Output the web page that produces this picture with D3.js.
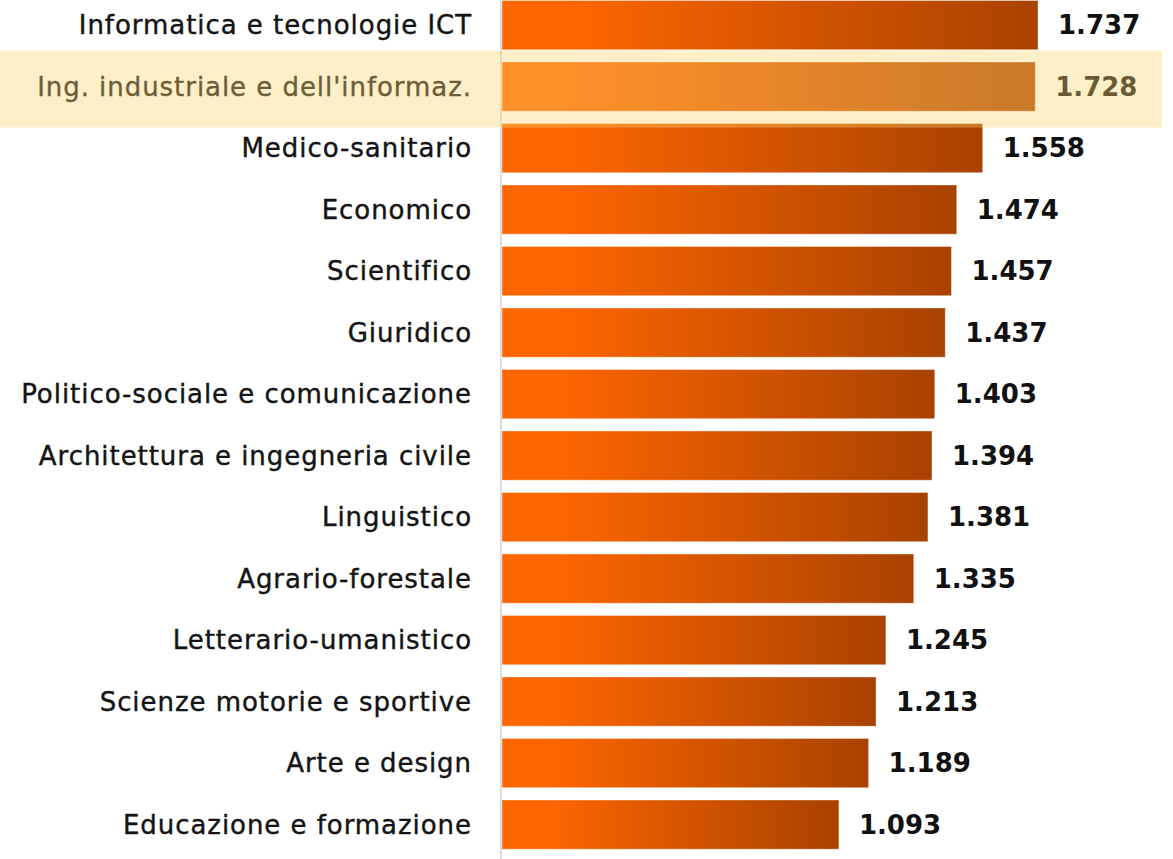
<!DOCTYPE html>
<html>
<head>
<meta charset="utf-8">
<script src="https://cdnjs.cloudflare.com/ajax/libs/d3/7.8.5/d3.min.js"></script>
<style>
    html, body { margin: 0; padding: 0; background: #ffffff; }
    svg { display: block; }
</style>
</head>
<body>
<div id="chart"></div>
<script>
var categories = [
    "Informatica e tecnologie ICT",
    "Ing. industriale e dell'informaz.",
    "Medico-sanitario",
    "Economico",
    "Scientifico",
    "Giuridico",
    "Politico-sociale e comunicazione",
    "Architettura e ingegneria civile",
    "Linguistico",
    "Agrario-forestale",
    "Letterario-umanistico",
    "Scienze motorie e sportive",
    "Arte e design",
    "Educazione e formazione"
];
var values = [1.737, 1.728, 1.558, 1.474, 1.457, 1.437, 1.403, 1.394, 1.381, 1.335, 1.245, 1.213, 1.189, 1.093];
var highlighted = ["Ing. industriale e dell'informaz."];

var full_width = 1173,
    full_height = 859;

var axis_x = 501;

var svg = d3.select("#chart")
    .append("svg")
    .attr("width", full_width)
    .attr("height", full_height);

// gradient used by every bar
var defs = svg.append("defs");
var grad = defs.append("linearGradient")
    .attr("id", "barGrad")
    .attr("x1", "0").attr("y1", "0")
    .attr("x2", "1").attr("y2", "0");
grad.append("stop").attr("offset", "0").attr("stop-color", "#ff6600");
grad.append("stop").attr("offset", "0.12").attr("stop-color", "#ff6600");
grad.append("stop").attr("offset", "1").attr("stop-color", "#a84200");

var x = d3.scaleLinear()
    .domain([0, d3.max(values)])
    .range([axis_x, 1038]);

var y = d3.scaleBand()
    .domain(categories)
    .range([0.5, 849.2])
    .paddingInner(0.2)
    .paddingOuter(0);

var rows = categories.map(function(c, i) { return { name: c, value: values[i] }; });

// axis line
svg.append("line")
    .attr("x1", axis_x).attr("x2", axis_x)
    .attr("y1", 0).attr("y2", full_height)
    .attr("stroke", "#dcdcdc")
    .attr("stroke-width", 2);

svg.selectAll("rect.bar")
    .data(rows)
    .enter()
    .append("rect")
    .attr("class", "bar")
    .attr("x", axis_x + 1)
    .attr("y", function(d) { return y(d.name); })
    .attr("width", function(d) { return x(d.value) - axis_x - 1; })
    .attr("height", y.bandwidth())
    .attr("fill", "url(#barGrad)")
    .attr("stroke", "rgba(255,255,255,0.35)")
    .attr("stroke-width", 1);

svg.selectAll("text.label")
    .data(rows)
    .enter()
    .append("text")
    .attr("class", "label")
    .attr("x", 472)
    .attr("y", function(d) { return y(d.name) + y.bandwidth() / 2; })
    .attr("dy", "0.36em")
    .attr("text-anchor", "end")
    .style("font-family", "'DejaVu Sans', sans-serif")
    .style("font-size", "26px")
    .style("letter-spacing", "0.95px")
    .style("fill", "#141414")
    .style("stroke", "#141414")
    .style("stroke-width", "0.4px")
    .text(function(d) { return d.name; });

svg.selectAll("text.value")
    .data(rows)
    .enter()
    .append("text")
    .attr("class", "value")
    .attr("x", function(d) { return x(d.value) + 20; })
    .attr("y", function(d) { return y(d.name) + y.bandwidth() / 2; })
    .attr("dy", "0.36em")
    .style("font-family", "'DejaVu Sans', sans-serif")
    .style("font-size", "26px")
    .style("font-weight", "bold")
    .style("fill", "#111111")
    .text(function(d) { return d3.format(".3f")(d.value); });

// highlight overlay on the selected row
svg.selectAll("rect.highlight")
    .data(rows.filter(function(d) { return highlighted.indexOf(d.name) >= 0; }))
    .enter()
    .append("rect")
    .attr("class", "highlight")
    .attr("x", 0)
    .attr("y", function(d) { return y(d.name) + y.bandwidth() / 2 - 36; })
    .attr("width", 1162)
    .attr("height", 77)
    .attr("fill", "#ffd56e")
    .attr("fill-opacity", 0.38);
</script>
</body>
</html>
